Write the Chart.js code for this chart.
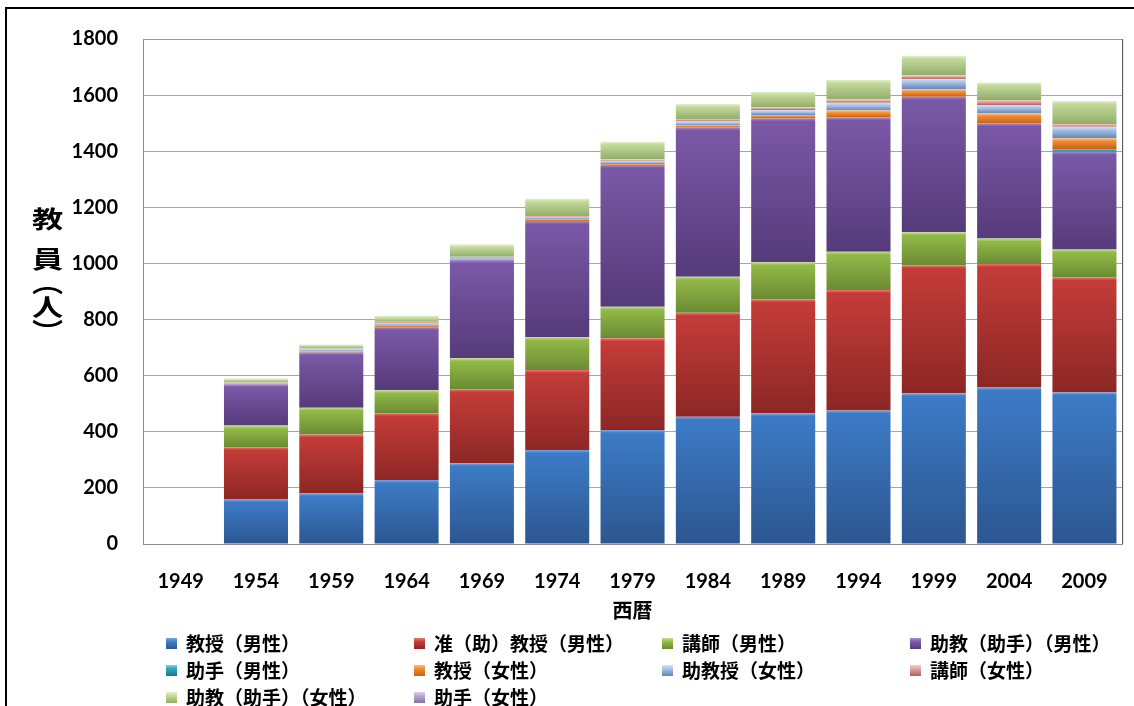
<!DOCTYPE html>
<html lang="ja">
<head>
<meta charset="utf-8">
<title>教員数の推移</title>
<script src="https://cdn.jsdelivr.net/npm/chart.js@4.4.1/dist/chart.umd.min.js"></script>
<style>
  html, body { margin: 0; padding: 0; background: #fff; }
  #wrap { position: relative; width: 1134px; height: 706px; overflow: hidden; }
  #frame { position: absolute; left: 5px; top: 7px; right: 0; bottom: 0;
           border-top: 2px solid #000; border-left: 2px solid #000; pointer-events: none; }
  #chart { position: absolute; left: 0; top: 0; }
  #ytitle { position: absolute; left: 35px; top: 207px; writing-mode: vertical-rl;
            font: bold 24px "Noto Sans CJK JP"; line-height: 24px; color: #000;
            transform: scaleX(1.3); }
  #legend { position: absolute; left: 166px; top: 629px; display: grid;
            grid-template-columns: repeat(4, 248px); grid-auto-rows: 27px;
            font: bold 19px "Noto Sans CJK JP"; color: #000; }
  #legend .item { display: flex; align-items: center; white-space: nowrap; line-height: 27px; }
  #legend .box { width: 11px; height: 11px; margin-right: 9px; margin-top: 2px; }
</style>
</head>
<body>
<div id="wrap">
  <canvas id="chart" width="1134" height="706"></canvas>
  <div id="ytitle"><span style="letter-spacing:16px">教</span>員（人）</div>
  <div id="legend"></div>
  <div id="frame"></div>
</div>
<script>
const years = ["1949", "1954", "1959", "1964", "1969", "1974", "1979", "1984", "1989", "1994", "1999", "2004", "2009"];

const seriesLabels = [
  "教授（男性）", "准（助）教授（男性）", "講師（男性）", "助教（助手）（男性）",
  "助手（男性）", "教授（女性）", "助教授（女性）", "講師（女性）",
  "助教（助手）（女性）", "助手（女性）"
];

// values
const profMale        = [0, 159, 181, 228, 288, 335, 406, 454, 466, 476, 537, 558, 541];
const assocMale       = [0, 186, 209, 238, 264, 285, 327, 370, 406, 429, 456, 440, 409];
const lecturerMale    = [0, 77, 96, 82, 110, 117, 113, 129, 132, 137, 118, 91, 100];
const assistProfMale  = [0, 147, 197, 225, 350, 414, 505, 532, 513, 478, 483, 410, 348];
const assistantMale   = [0, 0, 0, 0, 0, 0, 0, 0, 0, 0, 0, 0, 10];
const profFemale      = [0, 2, 4, 5, 3, 7, 3, 7, 12, 26, 27, 36, 38];
const assocFemale     = [0, 3, 6, 8, 5, 6, 12, 14, 18, 27, 36, 30, 41];
const lecturerFemale  = [0, 2, 4, 6, 4, 5, 5, 9, 10, 11, 14, 18, 10];
const assistProfFemale = [0, 14, 14, 22, 44, 62, 63, 53, 55, 70, 69, 62, 82];
const assistantFemale = [0, 0, 0, 0, 0, 0, 0, 0, 0, 0, 0, 0, 0];

const yTicks = [0, 200, 400, 600, 800, 1000, 1200, 1400, 1600, 1800];

const series = [profMale, assocMale, lecturerMale, assistProfMale, assistantMale,
  profFemale, assocFemale, lecturerFemale, assistProfFemale, assistantFemale];

// [highlight, light, dark] per series
const palette = [
  ["#74a9ea", "#3d7bc6", "#2c5690"],
  ["#f37470", "#c43c39", "#8c2725"],
  ["#c2e483", "#92b948", "#6b8a33"],
  ["#a98cd6", "#7a58a6", "#553b7a"],
  ["#7fd3e8", "#31a5bf", "#21778d"],
  ["#ffc07a", "#f28a2e", "#c0621b"],
  ["#d2e4fa", "#a6c3ea", "#6784b3"],
  ["#f6cccb", "#e3a3a2", "#a8615f"],
  ["#e4f2c8", "#c2da9c", "#92ad6a"],
  ["#dcd2ee", "#b6a8cf", "#8574a3"]
];

function segmentFill(i) {
  return (ctx) => {
    const chart = ctx.chart;
    if (!chart.chartArea || ctx.type !== "data") return palette[i][1];
    const idx = ctx.dataIndex;
    let base = 0;
    for (let k = 0; k < i; k++) base += series[k][idx];
    const val = series[i][idx];
    const y = chart.scales.y;
    const top = y.getPixelForValue(base + val);
    const bot = y.getPixelForValue(base);
    if (!(bot - top > 0.5)) return palette[i][1];
    const g = chart.ctx.createLinearGradient(0, top, 0, bot);
    const hl = Math.min(0.45, 3 / (bot - top));
    g.addColorStop(0, palette[i][0]);
    g.addColorStop(hl, palette[i][1]);
    g.addColorStop(1, palette[i][2]);
    return g;
  };
}

const datasets = series.map((data, i) => ({
  label: seriesLabels[i],
  data,
  backgroundColor: segmentFill(i),
  borderWidth: 0,
  barPercentage: 0.85,
  categoryPercentage: 1
}));

const plotFrame = {
  id: "plotFrame",
  afterDraw(chart) {
    const { ctx, chartArea: a } = chart;
    ctx.save();
    ctx.lineWidth = 1;
    ctx.strokeStyle = "#9a9a9a";
    ctx.beginPath();
    ctx.moveTo(a.left, a.top + 0.5);
    ctx.lineTo(a.right, a.top + 0.5);
    ctx.stroke();
    ctx.strokeStyle = "#4a4a4a";
    ctx.beginPath();
    ctx.moveTo(a.right + 0.5, a.top);
    ctx.lineTo(a.right + 0.5, a.bottom);
    ctx.stroke();
    ctx.restore();
  }
};

const tickFont = { family: "Lato", weight: "bold", size: 20 };

new Chart(document.getElementById("chart"), {
  type: "bar",
  data: { labels: years, datasets },
  plugins: [plotFrame],
  options: {
    responsive: false,
    animation: false,
    layout: { padding: { top: 39, right: 9, left: 0, bottom: 0 } },
    plugins: { legend: { display: false }, tooltip: { enabled: false } },
    scales: {
      x: {
        stacked: true,
        grid: { display: false, drawTicks: false },
        border: { color: "#8c8c8c" },
        ticks: { font: tickFont, color: "#000", padding: 26, maxRotation: 0, autoSkip: false },
        title: {
          display: true, text: "西暦", color: "#000",
          font: { family: "Noto Sans CJK JP", weight: "bold", size: 20 },
          padding: { top: 0, bottom: 84 }
        },
        afterFit(s) { s.height = 162; }
      },
      y: {
        stacked: true,
        min: yTicks[0],
        max: yTicks[yTicks.length - 1],
        afterBuildTicks(s) { s.ticks = yTicks.map((v) => ({ value: v })); },
        ticks: { font: tickFont, color: "#000", padding: 25, callback: (v) => String(v) },
        grid: { color: "#a6a6a6", drawTicks: false },
        border: { color: "#8c8c8c" },
        afterFit(s) { s.width = 143; }
      }
    }
  }
});

const legendEl = document.getElementById("legend");
seriesLabels.forEach((label, i) => {
  const item = document.createElement("div");
  item.className = "item";
  const box = document.createElement("span");
  box.className = "box";
  box.style.background = `linear-gradient(${palette[i][0]}, ${palette[i][1]} 35%, ${palette[i][2]})`;
  const txt = document.createElement("span");
  txt.textContent = label;
  item.appendChild(box);
  item.appendChild(txt);
  legendEl.appendChild(item);
});
</script>
</body>
</html>
